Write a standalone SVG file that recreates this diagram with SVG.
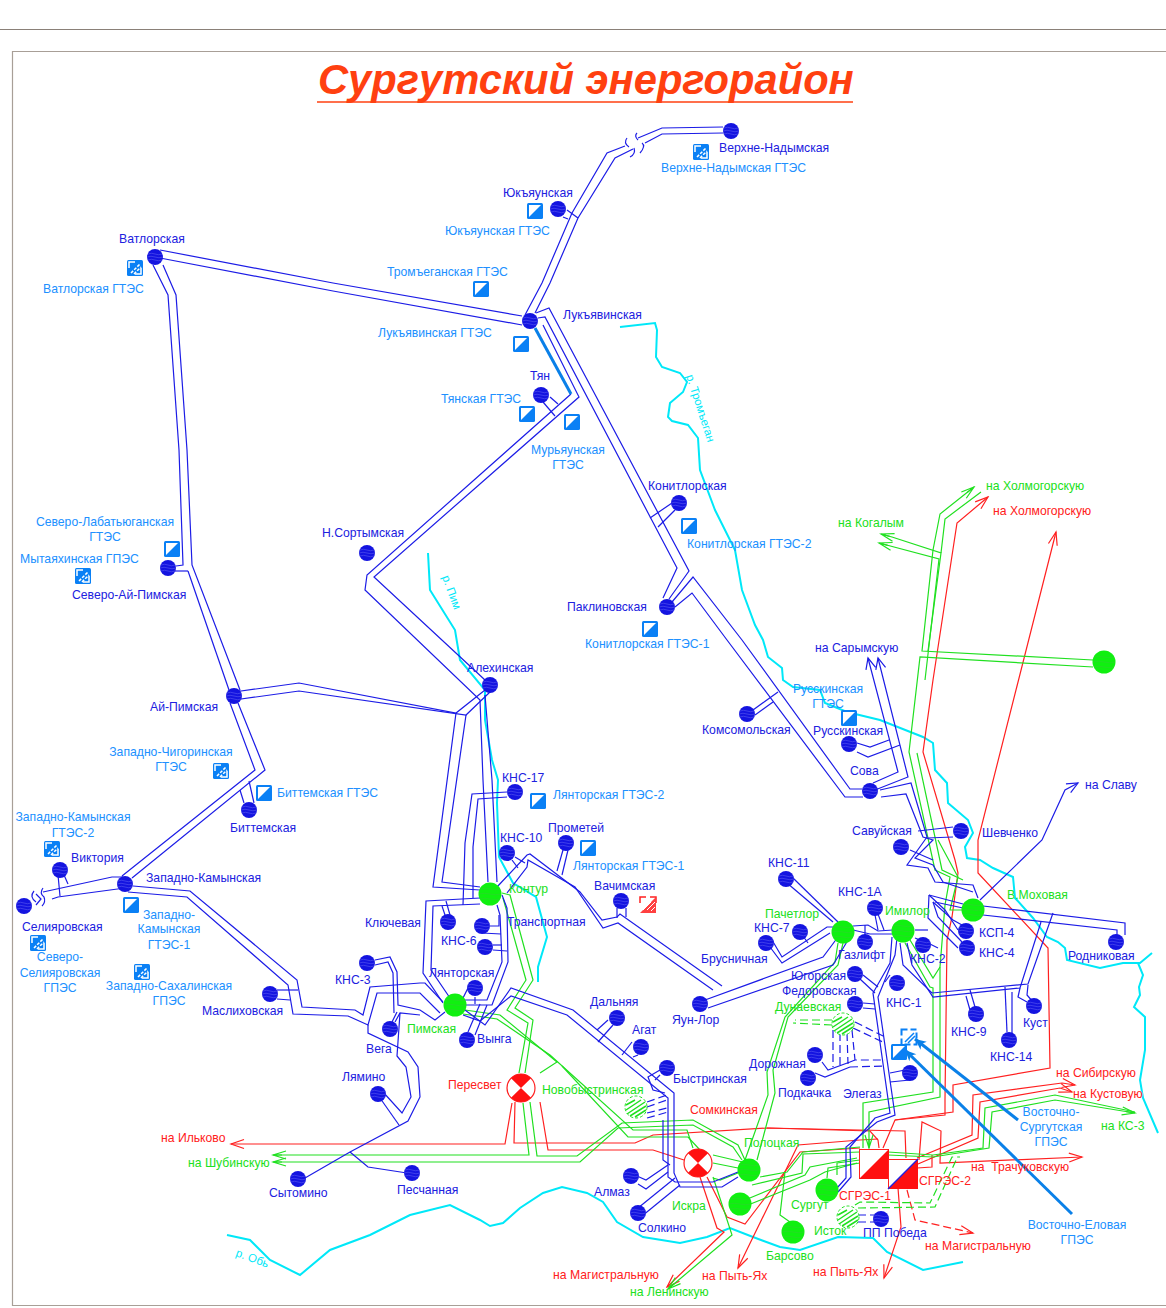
<svg xmlns="http://www.w3.org/2000/svg" width="1166" height="1308" viewBox="0 0 1166 1308">
<style>
text{font-family:"Liberation Sans",Arial,sans-serif;font-size:12.2px}
.tb{fill:#2020e0}.tg{fill:#20e020}.tr{fill:#ff2020}.tc{fill:#2090ff}.tq{fill:#00e8f8;font-size:11.5px}
.m{text-anchor:middle}
polyline,path.l{fill:none}
.b polyline,.b path{stroke:#1c1ce6;stroke-width:1.2}
.g polyline{stroke:#20e020;stroke-width:1.2}
.r polyline{stroke:#ff2020;stroke-width:1.2}
.gd polyline{stroke:#20e020;stroke-width:1.2;stroke-dasharray:8 4}
.bd polyline{stroke:#1c1ce6;stroke-width:1.2;stroke-dasharray:8 4}
.rd polyline{stroke:#ff2020;stroke-width:1.2;stroke-dasharray:8 4}
.w polyline{stroke:#00e8f8;stroke-width:2}
.cal polyline{stroke:#0a80e8;stroke-width:3}
.ab{marker-end:url(#ab)}.ag{marker-end:url(#ag)}.ar{marker-end:url(#ar)}.ac{marker-end:url(#ac)}
</style>
<defs>
<marker id="ab" markerUnits="userSpaceOnUse" markerWidth="14" markerHeight="14" refX="12" refY="7" orient="auto"><path d="M1,2 L12,7 L1,12" fill="none" stroke="#1c1ce6" stroke-width="1.2"/></marker>
<marker id="ag" markerUnits="userSpaceOnUse" markerWidth="16" markerHeight="14" refX="14" refY="7" orient="auto"><path d="M1,3 L14,7 L1,11 M5,7 L14,7" fill="none" stroke="#20e020" stroke-width="1.2"/></marker>
<marker id="ar" markerUnits="userSpaceOnUse" markerWidth="16" markerHeight="14" refX="14" refY="7" orient="auto"><path d="M1,2.5 L14,7 L1,11.5" fill="none" stroke="#ff2020" stroke-width="1.2"/></marker>
<marker id="ac" markerUnits="userSpaceOnUse" markerWidth="14" markerHeight="14" refX="12" refY="7" orient="auto"><path d="M1,2 L12,7 L1,12 L4,7 Z" fill="#0a80e8"/></marker>
<g id="bn"><circle r="8" fill="#1414e0"/><path d="M-7,-3 q3.500,-1.500 7,0 t7,0 M-8,0 q4,-1.500 8,0 t8,0 M-7,3 q3.500,-1.500 7,0 t7,0" fill="none" stroke="#5a5af0" stroke-width=".6"/></g>
<g id="gn"><circle r="11.500" fill="#10f010"/><path d="M-10,-5 q5,-1.500 10,0 t10,0 M-11,0 q5.500,-1.500 11,0 t11,0 M-10,5 q5,-1.500 10,0 t10,0" fill="none" stroke="#30d030" stroke-width=".6"/></g>
<g id="hn"><circle r="11" fill="#fff" stroke="#20e020" stroke-width="1" stroke-dasharray="3 2"/><path d="M-10,-2 L-1,-7 M-10,3 L5,-7 M-9,7 L9,-5 M-6,9 L10,-1 M-1,10 L10,3" stroke="#20e020" stroke-width="1.500" fill="none"/></g>
<g id="xn"><circle r="14" fill="#fff" stroke="#ff2020" stroke-width="1.200"/><path d="M-10,-9.800 A14,14 0 0 1 10,-9.800 L0,0 Z M-10,9.800 A14,14 0 0 0 10,9.800 L0,0 Z" fill="#ff1010"/></g>
<g id="gtes"><rect x="-8" y="-8" width="16" height="16" rx="1.500" fill="#0a80f5"/><path d="M-6,-6 L6,-6 L-6,6 Z" fill="#fff"/></g>
<g id="gpes"><rect x="-8" y="-8" width="16" height="16" rx="1.500" fill="#0a80f5"/><path d="M-6,0 L-6,-6 L0,-6 M0,6 L6,6 L6,0" fill="none" stroke="#fff" stroke-width="1.500"/><path d="M-4,5 L5,-4 M-1,6 L6,-1" fill="none" stroke="#fff" stroke-width="1.500" stroke-dasharray="3 1.500"/></g>
<g id="rpes"><path d="M-8,-2 L-8,-8 L-2,-8 M2,-8 L8,-8 L8,-2" fill="none" stroke="#ff2020" stroke-width="1.500"/><path d="M-8,8 L8,-8 L8,8 Z" fill="#ff4040"/><path d="M-5,5 L3,-3 M-1,5 L7,-3 M3,6 L7,2" stroke="#fff" stroke-width="1"/></g>
<g id="dpes"><rect x="-7.500" y="-7.500" width="15" height="15" fill="none" stroke="#0a80f5" stroke-width="2" stroke-dasharray="6 3"/><path d="M-4,5 L5,-4 M-1,6 L6,-1" stroke="#0a80f5" stroke-width="1.500"/></g>
</defs>
<rect width="1166" height="1308" fill="#fff"/>
<g id="frame" fill="none" stroke="#a89f97">
<path d="M0,29.500 H1166" stroke="#8a8078"/>
<path d="M1166,51.500 H12.500 V1305.500 H1166" stroke-width="1.200"/>
</g>
<g id="title"><text x="318" y="94" style="font-size:41.700px;font-weight:bold;font-style:italic;fill:#ff4010">Сургутский энергорайон</text><path d="M317,102 H853" stroke="#ff4010" stroke-width="1.500"/></g>

<g id="rivers" class="w">
<polyline points="620,327 655,323 657,330 656,357 662,367 680,373 687,382 683,392 670,403 668,417 672,421 688,425 698,438 700,470 715,510 735,550 742,590 755,625 763,640 768,657 782,668 783,680 793,687 820,690 825,703 847,712 880,720 923,737 933,743 935,770 947,783 948,803 968,820 973,833 965,847 967,858 980,860 993,868 1013,877 1015,898 1033,918 1047,937 1058,942 1065,948 1067,960 1100,968 1123,963 1140,963 1152,953"/>
<polyline points="1138,963 1143,975 1139,987 1140,995 1134,1007 1145,1017 1145,1050 1140,1080 1143,1098 1158,1133"/>
<polyline points="428,553 430,590 455,630 460,660 485,690 485,720 492,760 498,780 497,803 499,857 513,883 536,897 547,937 538,967 538,982"/>
<polyline points="227,1235 250,1240 270,1260 300,1275 330,1250 370,1235 410,1215 450,1205 480,1220 490,1226 503,1223 520,1208 543,1193 562,1187 587,1193 603,1202 617,1222 643,1237 680,1243 707,1237 730,1228 753,1237 780,1247 800,1250 838,1237 873,1238 887,1252 923,1270 963,1262"/>
<text class="tq" transform="translate(686,376) rotate(72)">р. Тромъеган</text>
<text class="tq" transform="translate(442,577) rotate(70)">р. Пим</text>
<text class="tq" transform="translate(235,1256) rotate(20)">р. Обь</text>
</g>

<g id="connectors">
<g class="r">
<polyline class="ar" points="883,1148 895,1120 953,1112 953,1085 1050,1068 1048,948 978,873 978,840 1056,532"/>
<polyline class="ar" points="933,680 957,523 988,497"/>
<polyline points="933,680 923,752 955,860 958,873 952,917 947,940 945,1100 945,1115 895,1120"/>
<polyline class="ar" points="512,1103 505,1144 231,1144"/>
<polyline points="515,1102 514,1143 635,1143 653,1135 767,1128 870,1131 878,1140 879,1148"/>
<polyline points="767,1128 905,1131 906,1158"/>
<polyline points="540,1102 548,1150 653,1150 684,1160"/>
<polyline class="ar" points="878,1139 860,1140 798,1145 738,1268"/>
<polyline points="707,1177 727,1217 745,1224 800,1152 860,1148"/>
<polyline class="ar" points="700,1177 717,1228 724,1232 667,1287"/>
<polyline class="ar" points="917,1158 972,1135 973,1095 1062,1083 1075,1085"/>
<polyline class="ar" points="918,1164 978,1138 980,1102 1060,1088 1072,1092"/>
<polyline class="ar" points="919,1160 922,1122 941,1131 940,1163 1082,1157"/>
<polyline points="917,1168 932,1167 932,1155"/>
<polyline class="ar" points="898,1188 901,1227 884,1278"/>
</g>
<g class="rd"><polyline class="ar" points="907,1190 915,1220 973,1233"/></g>

<g class="g">
<polyline class="ag" points="1093,660 922,651 933,550 940,514 974,487"/>
<polyline class="ag" points="1093,667 920,657 909,752 935,870 950,877 945,905 940,967 940,1097 869,1112 869,1148"/>
<polyline class="ag" points="928,651 941,553 892,537 881,534"/>
<polyline class="ag" points="925,680 939,559 879,543"/>
<polyline points="941,553 945,519 981,492"/>
<polyline points="917,753 942,870 963,880"/>
<polyline points="938,840 958,877 950,910 963,910"/>
<polyline points="905,943 930,987 933,988 933,1092 863,1103 863,1148"/>
<polyline points="910,940 933,978 940,967"/>
<polyline points="502,893 510,895 533,980 515,1008 533,1020 525,1073"/>
<polyline points="503,898 526,980 507,1010 528,1023 519,1073"/>
<polyline points="465,1010 500,1015 557,1062 540,1073"/>
<polyline points="463,1014 497,1019 550,1055 633,1130 687,1130 693,1148"/>
<polyline points="562,1066 628,1137 688,1137 700,1150"/>
<polyline class="ag" points="529,1155 523,1103 529,1155 273,1155"/>
<polyline class="ag" points="742,1160 733,1147 693,1125 618,1128 580,1162 273,1162"/>
<polyline points="530,1102 537,1156 577,1156 622,1123 693,1120 738,1145 745,1160"/>
<polyline points="713,1155 747,1163"/>
<polyline points="713,1163 738,1168"/>
<polyline points="713,1178 720,1180 738,1173"/>
<polyline class="ag" points="713,1177 732,1235 668,1289"/>
<polyline points="843,943 838,965 788,1017 773,1070 775,1093 757,1160"/>
<polyline points="838,943 835,962 785,1017 767,1072 768,1095 745,1160"/>
<polyline points="760,1177 787,1172 803,1152 860,1147"/>
<polyline points="752,1185 802,1173 803,1154 860,1152"/>
<polyline points="745,1200 805,1175 810,1167 857,1158"/>
<polyline points="748,1205 810,1180 825,1172 857,1163"/>
<polyline points="827,1178 828,1168 860,1163"/>
<polyline points="837,1175 837,1163 860,1160"/>
<polyline points="790,1222 780,1215 785,1172"/>
<polyline points="888,1152 933,1155 983,1148 985,1108 1055,1095 1135,1112"/>
<polyline class="ag" points="888,1155 933,1157 989,1148 992,1112 1055,1100 1135,1113"/>
</g>
<g class="gd">
<polyline points="855,1205 860,1202 930,1203 952,1157 960,1157"/>
<polyline points="858,1208 935,1207 957,1158"/>
<polyline points="832,1020 795,1020"/>
<polyline points="832,1025 793,1023"/>
</g>
<g class="b">
<polyline points="723,127 662,128 638,138"/><polyline points="723,133 662,134 645,143"/>
<polyline points="625,146 607,153 572,213 542,283 525,315"/><polyline points="633,149 615,158 578,218 550,283 535,313"/>
<path d="M627,138 q-4,5 2,9 M634,148 q2,6 -4,9 M637,133 q-3,3 1,7 M642,143 q4,3 -2,10" fill="none"/>
<polyline points="567,210 578,218"/><polyline points="563,217 568,219"/>
<polyline points="536,313 549,308 689,571 669,599"/>
<polyline points="538,318 545,317 677,568 663,598"/>
<polyline points="672,602 693,577 742,640 850,789 862,789"/>
<polyline points="675,607 692,593 727,640 845,797 863,797"/>
<polyline points="543,325 579,397 374,577 485,680"/>
<polyline points="571,394 367,575 365,590 480,700 483,780 488,882"/>
<polyline points="485,695 492,780 497,882"/>
<polyline points="160,250 333,283 522,316"/><polyline points="160,258 333,291 522,325"/>
<polyline points="163,265 176,295 187,450 192,565 240,690"/><polyline points="153,265 168,295 179,450 183,565 176,566"/>
<polyline points="188,571 229,690"/><polyline points="175,571 188,571"/>
<polyline points="238,703 265,770 132,878"/><polyline points="230,703 255,770 122,876"/>
<polyline points="240,790 244,803"/><polyline points="249,781 254,803"/>
<polyline points="234,692 299,683 456,713 485,690"/><polyline points="234,700 299,691 466,715 490,692"/>
<polyline points="456,713 433,887 480,890"/><polyline points="466,715 442,882 480,887"/>
<polyline points="507,792 472,794 465,843 463,905"/><polyline points="507,797 478,799 473,847 473,898"/>
<polyline points="480,898 426,901 423,973 443,1003"/><polyline points="480,904 433,906 431,970 450,998"/>
<polyline points="497,905 500,915 502,962 487,1000 463,1000"/><polyline points="502,895 507,908 508,962 492,1005 465,1005"/>
<polyline points="468,1032 480,1004"/><polyline points="475,1035 487,1005"/>
<polyline points="465,1010 485,1025 511,988 573,1010 674,1093 674,1173 680,1187 722,1187 738,1177"/>
<polyline points="463,1015 480,1021 511,996 567,1015 668,1098 668,1177 675,1182 713,1182 738,1172"/>
<polyline points="663,1120 663,1160 670,1165"/>
<polyline points="597,1030 608,1020"/><polyline points="598,1042 613,1025"/>
<polyline points="632,1042 622,1055"/><polyline points="638,1055 633,1057"/>
<polyline points="660,1070 648,1077 653,1090 665,1093"/>
<polyline points="660,1075 655,1080"/>
<polyline points="637,1176 646,1180 668,1165"/><polyline points="638,1184 646,1189 668,1172"/>
<polyline points="638,1208 675,1178"/><polyline points="642,1216 680,1185"/>
<polyline points="497,887 527,855 530,854 580,892 602,920 617,917 620,914 722,986"/>
<polyline points="507,893 527,867 528,860 575,887 603,928 618,923 713,990"/>
<polyline points="512,860 518,868"/><polyline points="515,857 525,863"/>
<polyline points="563,850 557,871"/><polyline points="568,850 562,875"/>
<polyline points="617,908 617,918"/><polyline points="626,908 626,917"/>
<polyline points="705,1000 823,957 838,937"/><polyline points="708,1008 833,965 848,940"/>
<polyline points="767,943 782,963 830,933"/><polyline points="772,940 782,957 827,927 833,927"/>
<polyline points="800,932 808,943"/>
<polyline points="793,878 838,922"/><polyline points="787,883 833,922"/>
<polyline points="853,926 868,925 878,931 893,930"/><polyline points="853,930 870,934 893,934"/>
<polyline points="865,925 865,935"/>
<polyline points="875,915 878,930"/><polyline points="878,914 884,930"/>
<polyline points="892,937 890,963 873,993 890,1113 875,1118 850,1147 851,1177 838,1192"/>
<polyline points="897,938 895,955 878,997 895,1115 877,1122 846,1147 846,1178 837,1188"/>
<polyline points="863,975 878,987"/><polyline points="860,979 875,993"/>
<polyline points="863,1003 875,1004"/><polyline points="863,1008 875,1009"/>
<polyline points="890,975 885,982"/>
<polyline points="890,1073 905,1070"/><polyline points="890,1082 910,1080"/>
<polyline points="900,943 903,965 932,993 1028,984 1053,913"/>
<polyline points="907,943 912,965 933,997 1020,988 1041,922"/>
<polyline points="1028,985 1027,995 1033,1002"/><polyline points="1020,988 1018,997 1027,1002"/>
<polyline points="966,996 970,1010"/><polyline points="970,990 975,1007"/>
<polyline points="1005,987 1007,1032"/><polyline points="1012,992 1012,1033"/>
<polyline points="983,906 1125,923 1125,935"/><polyline points="983,915 1117,930 1117,935"/>
<polyline class="ab" points="873,783 898,772 868,658"/><polyline class="ab" points="875,790 908,777 878,658"/>
<polyline points="880,790 911,783 927,837 907,865 928,868 935,882 973,885 978,898"/>
<polyline points="881,797 906,794 923,837 933,840 915,858 933,865 943,882 973,892"/>
<polyline points="753,710 778,692"/><polyline points="755,715 773,702"/>
<polyline points="857,743 870,747 889,740"/><polyline points="857,752 868,757 900,745"/>
<polyline points="918,831 953,827"/><polyline points="927,838 953,837"/>
<polyline points="910,850 933,860"/>
<polyline points="672,503 650,518"/><polyline points="675,510 658,527"/>
<polyline points="550,397 558,404"/><polyline points="543,402 555,416"/>
<polyline points="123,877 112,877 43,892"/><polyline points="125,888 58,897 52,899"/>
<polyline points="133,886 190,891 297,980 302,1007 355,1010 363,1015 370,987 420,983 425,983 443,1002"/>
<polyline points="128,892 187,897 288,985 293,1014 348,1016 368,1025 377,993 420,993 440,1013"/>
<polyline points="58,875 60,896"/><polyline points="64,875 68,884"/>
<path d="M34,891 q-5,6 2,11 M43,888 q-4,5 1,9 q2,5 -2,9 M36,905 l5,-6 l-5,-5" fill="none"/>
<polyline points="277,990 298,990"/><polyline points="277,999 290,1000"/>
<polyline points="375,960 390,957 397,972 398,1005 420,1010 435,1020 445,1012"/>
<polyline points="375,965 388,962 393,973 394,1013"/>
<polyline points="392,1022 397,1012"/><polyline points="395,1022 400,1013 420,1015"/>
<polyline points="383,1092 402,1113 411,1097 406,1067 397,1056 400,1013"/>
<polyline points="380,1098 399,1125"/>
<polyline points="368,1025 368,1033 408,1052 418,1067 420,1097 408,1121 350,1152 305,1178"/>
<polyline points="350,1152 368,1167 407,1173"/>
<polyline points="442,906 445,915"/><polyline points="446,901 450,915"/>
<polyline points="490,926 499,926 499,915"/>
<polyline points="482,933 501,934"/><polyline points="493,945 502,945"/><polyline points="493,950 507,951"/>
<polyline points="463,998 468,988"/><polyline points="475,997 475,1004"/>
<polyline points="929,895 963,904"/><polyline points="929,895 928,918 958,948"/><polyline points="929,895 945,910 958,930"/><polyline points="933,902 953,920 962,925"/><polyline points="933,902 938,917 962,942"/><polyline points="935,902 963,908"/><polyline points="915,930 928,930"/><polyline points="915,938 930,944 938,948"/>
<polyline class="ab" points="980,900 1042,840 1065,790 1078,783"/>
<polyline points="822,1062 828,1070 850,1062 855,1060"/><polyline points="815,1073 825,1077 850,1067"/>
</g>
<g class="bd">
<polyline points="833,1030 833,1067"/><polyline points="840,1033 840,1067"/><polyline points="847,1033 848,1064"/><polyline points="852,1030 855,1060 885,1060"/>
<polyline points="855,1022 885,1037"/><polyline points="853,1028 885,1043"/><polyline points="850,1067 885,1066"/>
<polyline points="647,1102 667,1095"/><polyline points="647,1107 667,1100"/><polyline points="647,1113 667,1108"/><polyline points="647,1118 668,1112"/>
<polyline points="858,1215 875,1215"/><polyline points="858,1222 875,1222"/>
</g>
<g class="cal">
<polyline class="ac" points="1018,1120 915,1039"/>
<polyline class="ac" points="1072,1214 905,1050"/>
<polyline points="535,328 571,394"/>
</g>
</g>

<g id="stations-generating">
<g id="sgres1"><rect x="859.500" y="1149.500" width="29" height="29" fill="#fff" stroke="#ff2020"/><path d="M889,1149 V1179 H859 Z" fill="#ff1010"/><text class="tr" x="839" y="1200">СГРЭС-1</text></g>
<g id="sgres2"><rect x="888.500" y="1159.500" width="29" height="29" fill="#fff" stroke="#ff2020"/><path d="M918,1159 V1189 H888 Z" fill="#ff1010"/><path d="M888,1189 L918,1159" stroke="#2020e0" stroke-width="1.500"/><text class="tr" x="919" y="1185">СГРЭС-2</text></g>
<g id="peresvet"><use href="#xn" x="521" y="1088"/><text class="tr" x="448" y="1089">Пересвет</text></g>
<g id="somkinskaya"><use href="#xn" x="698" y="1163"/><text class="tr" x="690" y="1114">Сомкинская</text></g>
<g id="kontur"><use href="#gn" x="490" y="894"/><text class="tg" x="509" y="893">Контур</text></g>
<g id="pimskaya"><use href="#gn" x="455" y="1005"/><text class="tg" x="407" y="1033">Пимская</text></g>
<g id="pachetlor"><use href="#gn" x="843" y="932"/><text class="tg" x="765" y="918">Пачетлор</text></g>
<g id="imilor"><use href="#gn" x="903" y="931"/><text class="tg" x="885" y="915">Имилор</text></g>
<g id="mokhovaya"><use href="#gn" x="973" y="910"/><text class="tg" x="1007" y="899">В.Моховая</text></g>
<g id="green-east"><use href="#gn" x="1104" y="662"/></g>
<g id="polotskaya"><use href="#gn" x="749" y="1170"/><text class="tg" x="744" y="1147">Полоцкая</text></g>
<g id="iskra"><use href="#gn" x="740" y="1204"/><text class="tg" x="672" y="1210">Искра</text></g>
<g id="surgut"><use href="#gn" x="827" y="1190"/><text class="tg" x="791" y="1209">Сургут</text></g>
<g id="barsovo"><use href="#gn" x="793" y="1232"/><text class="tg" x="766" y="1260">Барсово</text></g>
<g id="dunaevskaya"><use href="#hn" x="843" y="1024"/><text class="tg" x="775" y="1011">Дунаевская</text></g>
<g id="novobystrinskaya"><use href="#hn" x="636" y="1107"/><text class="tg" x="542" y="1094">Новобыстринская</text></g>
<g id="istok"><use href="#hn" x="848" y="1217"/><text class="tg" x="814" y="1235">Исток</text></g>
</g>

<g id="stations-blue">
<g id="n01"><use href="#bn" x="731" y="131"/><text class="tb" x="719" y="152">Верхне-Надымская</text></g>
<g id="n02"><use href="#bn" x="558" y="209"/><text class="tb" x="503" y="197">Юкъяунская</text></g>
<g id="n03"><use href="#bn" x="530" y="321"/><text class="tb" x="563" y="319">Лукъявинская</text></g>
<g id="n04"><use href="#bn" x="541" y="395"/><text class="tb" x="530" y="380">Тян</text></g>
<g id="n05"><use href="#bn" x="155" y="257"/><text class="tb" x="119" y="243">Ватлорская</text></g>
<g id="n06"><use href="#bn" x="367" y="553"/><text class="tb" x="322" y="537">Н.Сортымская</text></g>
<g id="n07"><use href="#bn" x="679" y="503"/><text class="tb" x="648" y="490">Конитлорская</text></g>
<g id="n08"><use href="#bn" x="667" y="607"/><text class="tb" x="567" y="611">Паклиновская</text></g>
<g id="n09"><use href="#bn" x="168" y="568"/><text class="tb" x="72" y="599">Северо-Ай-Пимская</text></g>
<g id="n10"><use href="#bn" x="234" y="696"/><text class="tb" x="150" y="711">Ай-Пимская</text></g>
<g id="n11"><use href="#bn" x="490" y="685"/><text class="tb" x="467" y="672">Алехинская</text></g>
<g id="n12"><use href="#bn" x="747" y="714"/><text class="tb" x="702" y="734">Комсомольская</text></g>
<g id="n13"><use href="#bn" x="849" y="744"/><text class="tb" x="813" y="735">Русскинская</text></g>
<g id="n14"><use href="#bn" x="870" y="791"/><text class="tb" x="850" y="775">Сова</text></g>
<g id="n15"><use href="#bn" x="901" y="847"/><text class="tb" x="852" y="835">Савуйская</text></g>
<g id="n16"><use href="#bn" x="961" y="831"/><text class="tb" x="982" y="837">Шевченко</text></g>
<g id="n17"><use href="#bn" x="249" y="810"/><text class="tb" x="230" y="832">Биттемская</text></g>
<g id="n18"><use href="#bn" x="60" y="870"/><text class="tb" x="71" y="862">Виктория</text></g>
<g id="n19"><use href="#bn" x="125" y="884"/><text class="tb" x="146" y="882">Западно-Камынская</text></g>
<g id="n20"><use href="#bn" x="24" y="906"/><text class="tb" x="22" y="931">Селияровская</text></g>
<g id="n21"><use href="#bn" x="270" y="994"/><text class="tb" x="202" y="1015">Маслиховская</text></g>
<g id="n22"><use href="#bn" x="367" y="963"/><text class="tb" x="335" y="984">КНС-3</text></g>
<g id="n23"><use href="#bn" x="390" y="1029"/><text class="tb" x="366" y="1053">Вега</text></g>
<g id="n24"><use href="#bn" x="378" y="1094"/><text class="tb" x="342" y="1081">Лямино</text></g>
<g id="n25"><use href="#bn" x="298" y="1179"/><text class="tb" x="269" y="1197">Сытомино</text></g>
<g id="n26"><use href="#bn" x="412" y="1173"/><text class="tb" x="397" y="1194">Песчанная</text></g>
<g id="n27"><use href="#bn" x="515" y="792"/><text class="tb" x="502" y="782">КНС-17</text></g>
<g id="n28"><use href="#bn" x="507" y="853"/><text class="tb" x="500" y="842">КНС-10</text></g>
<g id="n29"><use href="#bn" x="566" y="843"/><text class="tb" x="548" y="832">Прометей</text></g>
<g id="n30"><use href="#bn" x="621" y="901"/><text class="tb" x="594" y="890">Вачимская</text></g>
<g id="n31"><use href="#bn" x="448" y="922"/><text class="tb" x="365" y="927">Ключевая</text></g>
<g id="n32"><use href="#bn" x="482" y="926"/><text class="tb" x="507" y="926">Транспортная</text></g>
<g id="n33"><use href="#bn" x="485" y="947"/><text class="tb" x="441" y="945">КНС-6</text></g>
<g id="n34"><use href="#bn" x="475" y="988"/><text class="tb" x="429" y="977">Лянторская</text></g>
<g id="n35"><use href="#bn" x="467" y="1040"/><text class="tb" x="477" y="1043">Вынга</text></g>
<g id="n36"><use href="#bn" x="617" y="1018"/><text class="tb" x="590" y="1006">Дальняя</text></g>
<g id="n37"><use href="#bn" x="641" y="1047"/><text class="tb" x="632" y="1034">Агат</text></g>
<g id="n38"><use href="#bn" x="667" y="1068"/><text class="tb" x="673" y="1083">Быстринская</text></g>
<g id="n39"><use href="#bn" x="631" y="1176"/><text class="tb" x="594" y="1196">Алмаз</text></g>
<g id="n40"><use href="#bn" x="638" y="1213"/><text class="tb" x="638" y="1232">Солкино</text></g>
<g id="n41"><use href="#bn" x="700" y="1004"/><text class="tb" x="672" y="1024">Яун-Лор</text></g>
<g id="n42"><use href="#bn" x="786" y="879"/><text class="tb" x="768" y="867">КНС-11</text></g>
<g id="n43"><use href="#bn" x="800" y="932"/><text class="tb" x="754" y="932">КНС-7</text></g>
<g id="n44"><use href="#bn" x="766" y="943"/><text class="tb" x="701" y="963">Брусничная</text></g>
<g id="n45"><use href="#bn" x="865" y="942"/><text class="tb" x="838" y="959">Газлифт</text></g>
<g id="n46"><use href="#bn" x="875" y="908"/><text class="tb" x="838" y="896">КНС-1А</text></g>
<g id="n47"><use href="#bn" x="923" y="945"/><text class="tb" x="910" y="963">КНС-2</text></g>
<g id="n48"><use href="#bn" x="966" y="931"/><text class="tb" x="979" y="937">КСП-4</text></g>
<g id="n49"><use href="#bn" x="967" y="948"/><text class="tb" x="979" y="957">КНС-4</text></g>
<g id="n50"><use href="#bn" x="855" y="974"/><text class="tb" x="791" y="980">Югорская</text></g>
<g id="n51"><use href="#bn" x="897" y="983"/><text class="tb" x="886" y="1007">КНС-1</text></g>
<g id="n52"><use href="#bn" x="855" y="1004"/><text class="tb" x="782" y="995">Федоровская</text></g>
<g id="n53"><use href="#bn" x="976" y="1014"/><text class="tb" x="951" y="1036">КНС-9</text></g>
<g id="n54"><use href="#bn" x="1034" y="1006"/><text class="tb" x="1023" y="1027">Куст</text></g>
<g id="n55"><use href="#bn" x="1009" y="1040"/><text class="tb" x="990" y="1061">КНС-14</text></g>
<g id="n56"><use href="#bn" x="1116" y="942"/><text class="tb" x="1068" y="960">Родниковая</text></g>
<g id="n57"><use href="#bn" x="815" y="1055"/><text class="tb" x="749" y="1068">Дорожная</text></g>
<g id="n58"><use href="#bn" x="808" y="1078"/><text class="tb" x="778" y="1097">Подкачка</text></g>
<g id="n59"><use href="#bn" x="910" y="1073"/><text class="tb" x="843" y="1098">Элегаз</text></g>
<g id="n60"><use href="#bn" x="881" y="1219"/><text class="tb" x="863" y="1237">ПП Победа</text></g>
</g>

<g id="plants">
<g id="p01"><use href="#gpes" x="701" y="152"/><text class="tc" x="661" y="172">Верхне-Надымская ГТЭС</text></g>
<g id="p02"><use href="#gtes" x="535" y="211"/><text class="tc" x="445" y="235">Юкъяунская ГТЭС</text></g>
<g id="p03"><use href="#gpes" x="135" y="268"/><text class="tc" x="43" y="293">Ватлорская ГТЭС</text></g>
<g id="p04"><use href="#gtes" x="481" y="289"/><text class="tc" x="387" y="276">Тромъеганская ГТЭС</text></g>
<g id="p05"><use href="#gtes" x="521" y="344"/><text class="tc" x="378" y="337">Лукъявинская ГТЭС</text></g>
<g id="p06"><use href="#gtes" x="527" y="414"/><text class="tc" x="441" y="403">Тянская ГТЭС</text></g>
<g id="p07"><use href="#gtes" x="572" y="422"/><text class="tc m" x="568" y="454">Мурьяунская</text><text class="tc m" x="568" y="469">ГТЭС</text></g>
<g id="p08"><use href="#gtes" x="172" y="549"/><text class="tc m" x="105" y="526">Северо-Лабатьюганская</text><text class="tc m" x="105" y="541">ГТЭС</text></g>
<g id="p09"><use href="#gpes" x="83" y="576"/><text class="tc" x="20" y="563">Мытаяхинская ГПЭС</text></g>
<g id="p10"><use href="#gtes" x="689" y="526"/><text class="tc" x="687" y="548">Конитлорская ГТЭС-2</text></g>
<g id="p11"><use href="#gtes" x="650" y="629"/><text class="tc" x="585" y="648">Конитлорская ГТЭС-1</text></g>
<g id="p12"><use href="#gtes" x="849" y="718"/><text class="tc m" x="828" y="693">Русскинская</text><text class="tc m" x="828" y="708">ГТЭС</text></g>
<g id="p13"><use href="#gpes" x="221" y="771"/><text class="tc m" x="171" y="756">Западно-Чигоринская</text><text class="tc m" x="171" y="771">ГТЭС</text></g>
<g id="p14"><use href="#gtes" x="264" y="793"/><text class="tc" x="277" y="797">Биттемская ГТЭС</text></g>
<g id="p15"><use href="#gpes" x="52" y="849"/><text class="tc m" x="73" y="821">Западно-Камынская</text><text class="tc m" x="73" y="837">ГТЭС-2</text></g>
<g id="p16"><use href="#gtes" x="131" y="905"/><text class="tc m" x="169" y="919">Западно-</text><text class="tc m" x="169" y="933">Камынская</text><text class="tc m" x="169" y="949">ГТЭС-1</text></g>
<g id="p17"><use href="#gpes" x="38" y="943"/><text class="tc m" x="60" y="961">Северо-</text><text class="tc m" x="60" y="977">Селияровская</text><text class="tc m" x="60" y="992">ГПЭС</text></g>
<g id="p18"><use href="#gpes" x="142" y="972"/><text class="tc m" x="169" y="990">Западно-Сахалинская</text><text class="tc m" x="169" y="1005">ГПЭС</text></g>
<g id="p19"><use href="#gtes" x="538" y="801"/><text class="tc" x="553" y="799">Лянторская ГТЭС-2</text></g>
<g id="p20"><use href="#gtes" x="588" y="848"/><text class="tc" x="573" y="870">Лянторская ГТЭС-1</text></g>
<g id="p21"><use href="#rpes" x="648" y="905"/></g>
<g id="p22"><use href="#dpes" x="909" y="1037"/><text class="tc m" x="1051" y="1116">Восточно-</text><text class="tc m" x="1051" y="1131">Сургутская</text><text class="tc m" x="1051" y="1146">ГПЭС</text></g>
<g id="p23"><use href="#gtes" x="899" y="1052"/><text class="tc m" x="1077" y="1229">Восточно-Еловая</text><text class="tc m" x="1077" y="1244">ГПЭС</text></g>
</g>

<g id="destinations">
<text class="tb" x="815" y="652">на Сарымскую</text>
<text class="tb" x="1085" y="789">на Славу</text>
<text class="tg" x="986" y="490">на Холмогорскую</text>
<text class="tr" x="993" y="515">на Холмогорскую</text>
<text class="tg" x="838" y="527">на Когалым</text>
<text class="tg" x="188" y="1167">на Шубинскую</text>
<text class="tr" x="161" y="1142">на Ильково</text>
<text class="tg" x="630" y="1296">на Ленинскую</text>
<text class="tg" x="1101" y="1130">на КС-3</text>
<text class="tr" x="1056" y="1077">на Сибирскую</text>
<text class="tr" x="1073" y="1098">на Кустовую</text>
<text class="tr" x="971" y="1171" xml:space="preserve">на  Трачуковскую</text>
<text class="tr" x="925" y="1250">на Магистральную</text>
<text class="tr" x="553" y="1279">на Магистральную</text>
<text class="tr" x="813" y="1276">на Пыть-Ях</text>
<text class="tr" x="702" y="1280">на Пыть-Ях</text>
</g>
</svg>
